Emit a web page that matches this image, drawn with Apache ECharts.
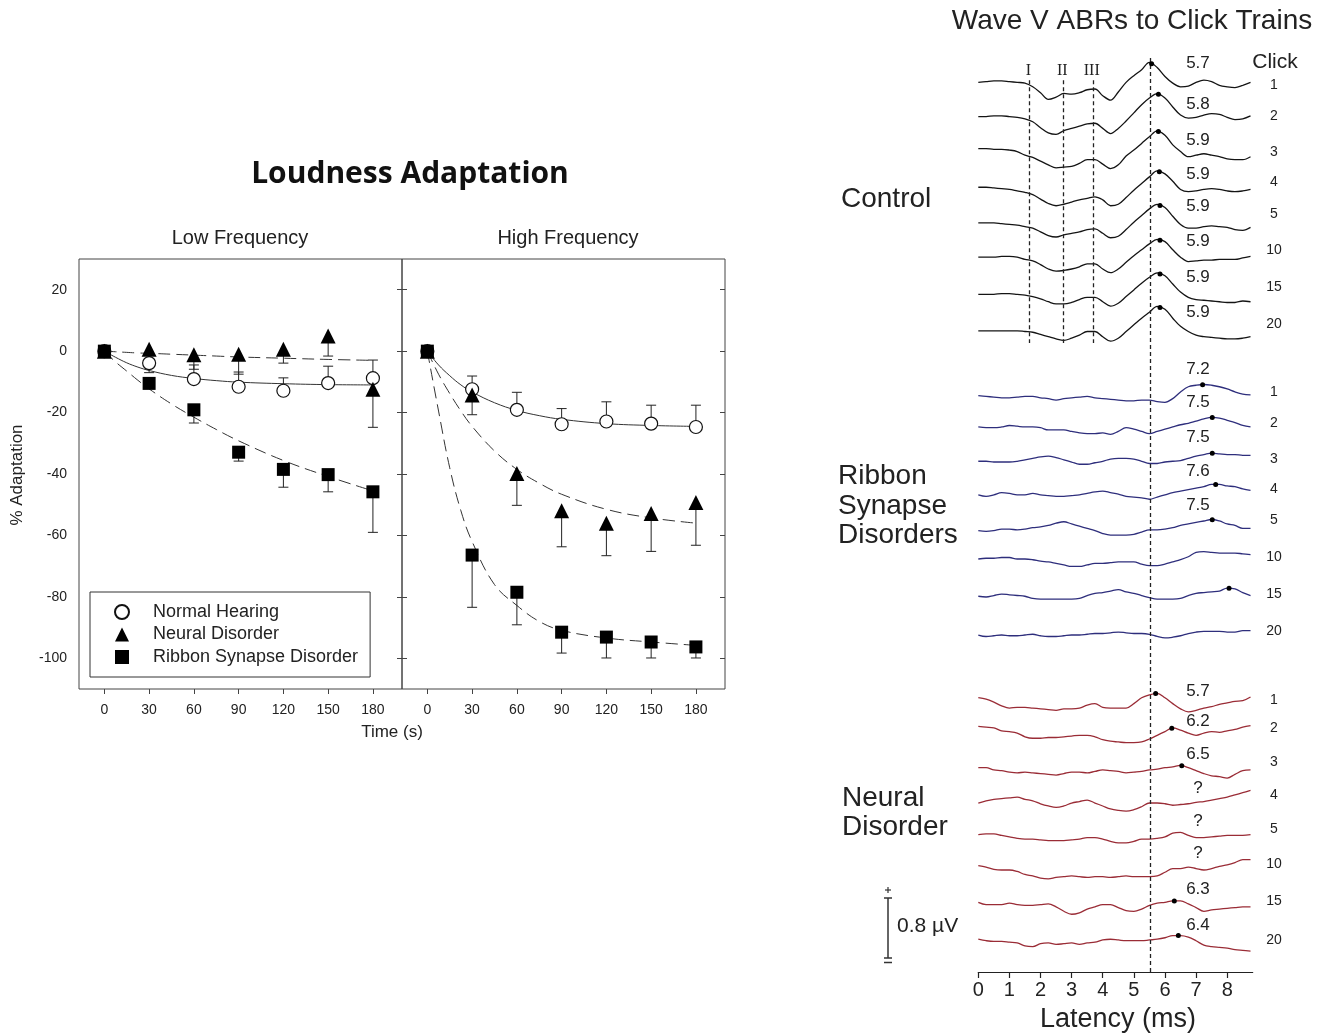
<!DOCTYPE html>
<html><head><meta charset="utf-8">
<script src="https://cdn.jsdelivr.net/npm/echarts@6/dist/echarts.min.js"></script>
<style>html,body{margin:0;padding:0;background:#fff}#c{width:1326px;height:1033px}</style>
</head><body><div id="c"></div>
<script>
// ---------------- Loudness adaptation data ----------------
const timeS = [0, 30, 60, 90, 120, 150, 180];
const yTicks = [-100, -80, -60, -40, -20, 0, 20];
const lowNH  = [0, -3.9, -9.1, -11.6, -12.9, -10.4, -8.8];
const lowNHErr = [null, null, -4.5, -6.8, -8.7, -4.9, -2.9];
const lowND  = [0, 0.6, -1.2, -1.0, 0.6, 4.9, -12.4];
const lowNDErr = [null, -7, -5.9, -7.5, -3.9, -1.6, -24.8];
const lowRS  = [0, -10.5, -19.1, -32.9, -38.5, -40.2, -45.8];
const lowRSErr = [null, null, -23.4, -35.8, -44.3, -45.8, -59];
const highNH = [0, -12.4, -19.1, -23.8, -22.9, -23.6, -24.7];
const highNHErr = [null, -8.1, -13.4, -18.7, -16.5, -17.6, -17.6];
const highND = [0, -14.3, -39.8, -52, -56, -52.9, -49.3];
const highNDErr = [null, -20.7, -50.2, -63.7, -66.6, -65.2, -63.2];
const highRS = [0, -66.4, -78.5, -91.5, -93.1, -94.7, -96.3];
const highRSErr = [null, -83.4, -89.1, -98.3, -99.9, -99.9, -99.9];
// fitted curves
const fitT = [0, 7.5, 15, 22.5, 30, 45, 60, 75, 90, 120, 150, 180];
const lowNHFit  = [0, -2, -3.8, -5.2, -6.3, -7.9, -8.9, -9.6, -10.1, -10.6, -10.9, -11];
const lowNDFit  = [0, -0.2, -0.4, -0.6, -0.7, -1.0, -1.3, -1.6, -1.9, -2.3, -2.7, -3.0];
const lowRSFit  = [0, -3.5, -6.5, -9.5, -12.3, -17.2, -21.5, -25.5, -29.2, -35.6, -40.8, -45.5];
const highNHFit = [0, -4.5, -8, -11, -13.3, -16.8, -19.3, -21, -22.2, -23.6, -24.2, -24.5];
const highNDFit = [0, -7.5, -13.8, -19.5, -24.5, -32.5, -38.5, -43, -46.6, -51.5, -54.3, -56];
const highRSFit = [0, -19.5, -38, -52, -62, -76, -82.8, -88, -90.9, -93.4, -94.7, -95.8];

// ---------------- ABR waveform data (µV, 0.25 ms sampling) ----------------
const latencyMs = [0,0.25,0.5,0.75,1,1.25,1.5,1.75,2,2.25,2.5,2.75,3,3.25,3.5,3.75,4,4.25,4.5,4.75,5,5.25,5.5,5.75,6,6.25,6.5,6.75,7,7.25,7.5,7.75,8,8.25,8.5,8.75];
const latencyTicks = [0,1,2,3,4,5,6,7,8];
const clickNumbers = ['1','2','3','4','5','10','15','20'];

const control_c1 = [-0.01,0.00,0.01,0.01,0.00,-0.01,-0.02,-0.07,-0.15,-0.24,-0.21,-0.16,-0.17,-0.15,-0.11,-0.10,-0.19,-0.25,-0.14,-0.01,0.08,0.16,0.26,0.19,0.07,-0.02,-0.07,-0.06,-0.01,0.02,0.00,-0.05,-0.07,-0.08,-0.05,-0.01];
const control_c2 = [0.01,0.01,0.02,0.02,0.01,0.00,-0.02,-0.06,-0.14,-0.21,-0.23,-0.18,-0.15,-0.12,-0.09,-0.08,-0.15,-0.22,-0.15,-0.05,0.06,0.17,0.26,0.32,0.26,0.14,0.03,-0.01,0.00,0.03,0.05,0.04,0.00,-0.03,-0.02,0.02];
const control_c3 = [0.06,0.06,0.05,0.05,0.04,0.02,-0.03,-0.06,-0.11,-0.16,-0.20,-0.19,-0.18,-0.14,-0.09,-0.09,-0.15,-0.21,-0.16,-0.04,0.04,0.13,0.22,0.30,0.24,0.11,0.02,-0.05,-0.03,-0.01,-0.03,-0.05,-0.08,-0.09,-0.09,-0.05];
const control_c4 = [0.02,0.02,0.01,0.00,-0.01,-0.03,-0.05,-0.08,-0.14,-0.20,-0.23,-0.21,-0.18,-0.15,-0.13,-0.11,-0.15,-0.23,-0.21,-0.12,-0.02,0.07,0.16,0.24,0.20,0.10,-0.01,-0.04,-0.03,-0.01,0.00,-0.01,-0.03,-0.04,-0.03,-0.01];
const control_c5 = [0.02,0.02,0.02,0.01,0.00,-0.01,-0.03,-0.05,-0.10,-0.15,-0.17,-0.14,-0.12,-0.10,-0.07,-0.06,-0.12,-0.18,-0.16,-0.07,0.03,0.12,0.21,0.27,0.23,0.11,0.00,-0.05,-0.05,-0.03,-0.02,-0.03,-0.04,-0.07,-0.08,-0.04];
const control_c10 = [0.04,0.04,0.04,0.05,0.05,0.04,0.01,-0.01,-0.06,-0.12,-0.15,-0.14,-0.12,-0.09,-0.05,-0.05,-0.12,-0.17,-0.12,-0.03,0.06,0.14,0.22,0.28,0.25,0.14,0.04,-0.02,-0.01,0.00,0.00,0.01,0.01,0.01,0.03,0.05];
const control_c15 = [0.02,0.02,0.02,0.03,0.03,0.02,0.01,-0.01,-0.04,-0.08,-0.11,-0.11,-0.09,-0.05,-0.02,-0.02,-0.08,-0.14,-0.10,-0.01,0.08,0.17,0.25,0.31,0.27,0.16,0.05,-0.02,-0.05,-0.06,-0.07,-0.08,-0.09,-0.09,-0.07,-0.08];
const control_c20 = [0.01,0.01,0.01,0.01,0.01,0.01,0.00,-0.01,-0.04,-0.07,-0.10,-0.12,-0.09,-0.05,0.00,0.00,-0.07,-0.13,-0.09,0.00,0.09,0.18,0.26,0.34,0.30,0.18,0.07,0.00,-0.05,-0.07,-0.08,-0.09,-0.10,-0.10,-0.09,-0.07];

const ribbon_c1 = [-0.03,-0.04,-0.05,-0.06,-0.06,-0.05,-0.04,-0.04,-0.06,-0.07,-0.09,-0.07,-0.06,-0.05,-0.04,-0.06,-0.07,-0.08,-0.09,-0.10,-0.10,-0.09,-0.09,-0.11,-0.12,-0.07,0.02,0.09,0.11,0.12,0.11,0.09,0.06,0.02,-0.01,-0.02];
const ribbon_c2 = [0.01,0.00,0.00,0.01,0.03,0.02,0.01,0.01,0.00,-0.03,-0.03,-0.03,-0.05,-0.07,-0.08,-0.08,-0.07,-0.09,-0.05,0.00,-0.02,-0.05,-0.08,-0.05,-0.02,0.01,0.04,0.06,0.09,0.12,0.14,0.13,0.10,0.07,0.03,0.01];
const ribbon_c3 = [0.01,0.01,0.00,0.00,0.00,0.01,0.03,0.05,0.07,0.08,0.06,0.03,0.00,-0.03,-0.03,-0.01,0.01,0.04,0.05,0.05,0.04,0.01,-0.02,-0.02,0.00,0.01,0.02,0.05,0.08,0.10,0.12,0.11,0.10,0.10,0.09,0.09];
const ribbon_c4 = [0.02,0.00,0.02,0.05,0.04,0.02,0.02,0.04,0.02,0.01,0.00,0.00,0.01,0.02,0.04,0.06,0.07,0.05,0.03,0.00,-0.01,-0.02,-0.04,-0.01,0.02,0.05,0.07,0.09,0.11,0.13,0.16,0.16,0.14,0.13,0.10,0.08];
const ribbon_c5 = [0.00,-0.01,0.00,0.02,0.02,0.01,0.02,0.04,0.05,0.07,0.10,0.12,0.09,0.06,0.03,0.00,-0.04,-0.06,-0.06,-0.06,-0.05,-0.02,0.01,0.01,0.02,0.04,0.07,0.09,0.11,0.13,0.15,0.13,0.09,0.07,0.03,0.03];
const ribbon_c10 = [0.08,0.09,0.09,0.10,0.10,0.08,0.08,0.07,0.05,0.04,0.02,0.00,-0.02,-0.02,0.00,0.02,0.02,0.03,0.04,0.04,0.04,0.01,-0.01,-0.01,0.01,0.04,0.07,0.11,0.17,0.18,0.17,0.16,0.16,0.16,0.15,0.14];
const ribbon_c15 = [0.04,0.03,0.05,0.07,0.06,0.05,0.04,0.01,0.00,0.00,0.00,0.00,0.00,0.01,0.05,0.08,0.09,0.11,0.13,0.10,0.08,0.05,0.02,0.00,0.00,0.00,0.01,0.05,0.08,0.09,0.10,0.11,0.15,0.14,0.09,0.05];
const ribbon_c20 = [-0.02,-0.04,-0.03,-0.02,-0.03,-0.03,-0.02,-0.01,-0.03,-0.04,-0.04,-0.03,-0.02,-0.02,-0.01,0.00,0.00,0.01,0.02,0.01,0.00,0.00,-0.01,-0.04,-0.06,-0.05,-0.03,0.00,0.02,0.03,0.03,0.03,0.02,0.02,0.04,0.04];

const neural_c1 = [-0.01,-0.03,-0.07,-0.12,-0.15,-0.14,-0.14,-0.15,-0.16,-0.17,-0.18,-0.16,-0.16,-0.15,-0.11,-0.09,-0.14,-0.15,-0.15,-0.15,-0.09,-0.01,0.03,0.05,-0.01,-0.09,-0.16,-0.20,-0.18,-0.15,-0.13,-0.10,-0.08,-0.06,-0.05,0.00];
const neural_c2 = [0.07,0.06,0.05,0.01,0.00,-0.02,-0.07,-0.09,-0.09,-0.08,-0.08,-0.07,-0.06,-0.05,-0.05,-0.07,-0.11,-0.13,-0.14,-0.15,-0.15,-0.14,-0.10,-0.05,0.00,0.05,0.02,-0.02,-0.05,-0.02,0.00,-0.01,0.01,0.03,0.06,0.08];
const neural_c3 = [-0.02,-0.02,-0.05,-0.06,-0.08,-0.09,-0.08,-0.09,-0.10,-0.11,-0.12,-0.10,-0.08,-0.08,-0.09,-0.07,-0.05,-0.06,-0.07,-0.09,-0.08,-0.07,-0.05,-0.04,-0.02,-0.01,0.01,-0.02,-0.06,-0.10,-0.13,-0.14,-0.16,-0.11,-0.06,-0.05];
const neural_c4 = [-0.03,0.00,0.02,0.03,0.04,0.05,0.02,0.00,-0.04,-0.07,-0.09,-0.07,-0.03,-0.01,0.01,-0.03,-0.07,-0.11,-0.13,-0.14,-0.12,-0.08,-0.03,-0.03,-0.04,-0.06,-0.05,-0.04,-0.02,-0.01,0.01,0.03,0.05,0.08,0.11,0.14];
const neural_c5 = [0.01,0.02,0.02,0.00,-0.02,-0.04,-0.05,-0.05,-0.06,-0.07,-0.07,-0.07,-0.06,-0.05,-0.03,-0.03,-0.05,-0.08,-0.10,-0.10,-0.08,-0.05,-0.05,-0.04,-0.02,0.03,0.04,0.00,-0.03,-0.03,-0.02,-0.01,0.00,0.00,0.00,0.01];
const neural_c10 = [0.06,0.04,0.01,0.00,0.00,-0.02,-0.06,-0.08,-0.11,-0.12,-0.10,-0.09,-0.08,-0.09,-0.10,-0.09,-0.09,-0.10,-0.09,-0.08,-0.09,-0.09,-0.09,-0.08,-0.03,0.02,0.02,0.04,0.02,0.00,0.02,0.05,0.07,0.10,0.14,0.14];
const neural_c15 = [0.03,0.00,0.00,0.00,0.02,0.00,-0.01,-0.01,0.00,0.01,-0.03,-0.09,-0.13,-0.11,-0.06,-0.03,0.00,0.00,-0.04,-0.08,-0.09,-0.06,-0.01,0.02,0.03,0.05,0.05,0.01,-0.04,-0.09,-0.07,-0.06,-0.05,-0.04,-0.03,-0.03];
const neural_c20 = [0.00,-0.02,-0.03,-0.03,-0.04,-0.05,-0.09,-0.10,-0.06,-0.05,-0.07,-0.06,-0.05,-0.07,-0.05,-0.04,-0.01,0.00,-0.01,-0.02,-0.02,-0.02,-0.01,0.00,0.02,0.05,0.05,0.03,-0.02,-0.08,-0.10,-0.11,-0.12,-0.14,-0.15,-0.16];

// peak marks (ms) and their latency labels
const controlPeakMs = [5.57, 5.79, 5.79, 5.82, 5.84, 5.84, 5.84, 5.84];
const controlPeakLabels = ['5.7','5.8','5.9','5.9','5.9','5.9','5.9','5.9'];
const ribbonPeakMs = [7.21, 7.52, 7.52, 7.63, 7.52, null, 8.06, null];
const ribbonPeakLabels = ['7.2','7.5','7.5','7.6','7.5','','',''];
const neuralPeakMs = [5.70, 6.22, 6.54, null, null, null, 6.30, 6.43];
const neuralPeakLabels = ['5.7','6.2','6.5','?','?','?','6.3','6.4'];
const waveVRefMs = 5.54;
const earlyWaves = [{name:'I', ms:1.64}, {name:'II', ms:2.73}, {name:'III', ms:3.68}];

// ---------------- layout ----------------
const groups = [
  {traces:[control_c1,control_c2,control_c3,control_c4,control_c5,control_c10,control_c15,control_c20], color:'#141414',
   peaks:controlPeakMs, labels:controlPeakLabels, start:12.031, step:0.4824,
   labelDy:[-18,-13,-13,-14,-18,-19,-19,-19], clickDy:[4,-1,-1,-7,-10,-10,-9,-7]},
  {traces:[ribbon_c1,ribbon_c2,ribbon_c3,ribbon_c4,ribbon_c5,ribbon_c10,ribbon_c15,ribbon_c20], color:'#2e2e7c',
   peaks:ribbonPeakMs, labels:ribbonPeakLabels, start:7.818, step:0.4635,
   labelDy:[-24.5,-25,-25,-25,-25.7,0,0,0], clickDy:[-1.5,-5,-3,-7,-10,-8,-5,-2]},
  {traces:[neural_c1,neural_c2,neural_c3,neural_c4,neural_c5,neural_c10,neural_c15,neural_c20], color:'#9a2c36',
   peaks:neuralPeakMs, labels:neuralPeakLabels, start:3.716, step:0.4676,
   labelDy:[-6,-10.6,-12,-12,-14,-17,-15.6,-14], clickDy:[3,-3,-4,-6,-6,-6,-3,1]}
];
const FONT = 'Arial, "Liberation Sans", sans-serif';
const INK = '#222';

function interp(vals, t) {
  for (let k = 0; k < latencyMs.length - 1; k++) {
    if (t >= latencyMs[k] && t <= latencyMs[k + 1]) {
      const f = (t - latencyMs[k]) / (latencyMs[k + 1] - latencyMs[k]);
      return vals[k] + f * (vals[k + 1] - vals[k]);
    }
  }
  return vals[vals.length - 1];
}

function errRender(params, api) {
  const x = api.value(0), y = api.value(1), e = api.value(2);
  const p1 = api.coord([x, y]), p2 = api.coord([x, e]);
  const w = 5;
  return {type:'group', children:[
    {type:'line', shape:{x1:p1[0], y1:p1[1], x2:p2[0], y2:p2[1]}, style:{stroke:'#222', lineWidth:1}},
    {type:'line', shape:{x1:p2[0]-w, y1:p2[1], x2:p2[0]+w, y2:p2[1]}, style:{stroke:'#222', lineWidth:1}}
  ]};
}
const pts = (xs, ys) => xs.map((t, i) => [t, ys[i]]);
const errPts = (ys, es) => timeS.map((t, i) => [t, ys[i], es[i]]).filter(d => d[2] !== null);

const series = [];
// fitted curves
[[0, lowNHFit, 'solid'], [0, lowNDFit, [12, 6]], [0, lowRSFit, [12, 6]],
 [1, highNHFit, 'solid'], [1, highNDFit, [12, 6]], [1, highRSFit, [12, 6]]].forEach(([g, arr, tp]) => {
  series.push({type:'line', name:'fit', xAxisIndex:g, yAxisIndex:g === 0 ? 0 : 2, data:pts(fitT, arr),
    smooth:0.4, symbol:'none', silent:true, z:2, lineStyle:{color:'#333', width:1, type:tp}});
});
// error bars
[[0, lowNH, lowNHErr], [0, lowND, lowNDErr], [0, lowRS, lowRSErr],
 [1, highNH, highNHErr], [1, highND, highNDErr], [1, highRS, highRSErr]].forEach(([g, ys, es]) => {
  series.push({type:'custom', name:'err', xAxisIndex:g, yAxisIndex:g === 0 ? 0 : 2, data:errPts(ys, es),
    encode:{x:0, y:[1, 2]}, renderItem:errRender, silent:true, z:3});
});
// markers
const markerStyles = {
  'Normal Hearing': {symbol:'circle', symbolSize:13, itemStyle:{color:'#fff', borderColor:'#111', borderWidth:1.2, opacity:1}},
  'Neural Disorder': {symbol:'triangle', symbolSize:15, itemStyle:{color:'#000', opacity:1}},
  'Ribbon Synapse Disorder': {symbol:'rect', symbolSize:13, itemStyle:{color:'#000', opacity:1}}
};
[['Normal Hearing', lowNH, highNH], ['Neural Disorder', lowND, highND], ['Ribbon Synapse Disorder', lowRS, highRS]].forEach(([nm, lo, hi], k) => {
  [[0, lo], [1, hi]].forEach(([g, ys]) => {
    series.push(Object.assign({type:'scatter', name:nm, xAxisIndex:g, yAxisIndex:g === 0 ? 0 : 2,
      data:pts(timeS, ys), z:5 + k, silent:true}, markerStyles[nm]));
  });
});

// ABR traces
const base = (g, i) => groups[g].start - i * groups[g].step;
const dots = [];
groups.forEach((grp, g) => {
  grp.traces.forEach((vals, i) => {
    const b = base(g, i);
    const s = {type:'line', name:'abr', xAxisIndex:2, yAxisIndex:4, data:latencyMs.map((t, k) => [t, b + vals[k]]),
      smooth:0.35, symbol:'none', silent:true, z:2, lineStyle:{color:grp.color, width:1.3}};
    if (g === 0 && i === 0) {
      const ml = [{xAxis:waveVRefMs}];
      earlyWaves.forEach(w => ml.push([{coord:[w.ms, 12.05]}, {coord:[w.ms, 8.5]}]));
      s.markLine = {symbol:['none','none'], silent:true, animation:false, label:{show:false},
        lineStyle:{type:[4, 3], color:'#222', width:1.3}, data:ml};
    }
    series.push(s);
    const pk = grp.peaks[i];
    if (pk !== null) dots.push([pk, b + interp(vals, pk)]);
  });
});
series.push({type:'scatter', name:'peak', xAxisIndex:2, yAxisIndex:4, data:dots, symbol:'circle', symbolSize:5,
  itemStyle:{color:'#000', opacity:1}, z:6, silent:true});

const tickStyle = {color:'#444', width:1};
const noLine = {show:false, onZero:false};
const option = {
  animation:false,
  textStyle:{fontFamily:FONT},
  legend:{orient:'vertical', left:90, top:592, selectedMode:false,
    data:['Normal Hearing','Neural Disorder','Ribbon Synapse Disorder'],
    borderColor:'#333', borderWidth:1, padding:[11, 12, 11, 24], itemGap:4.5, itemWidth:14, itemHeight:14,
    textStyle:{fontSize:18, color:INK, fontFamily:FONT, padding:[0, 0, 0, 19]}},
  grid:[
    {left:79, top:259, width:323, height:430, show:true, borderColor:'#444', borderWidth:1, containLabel:false},
    {left:402, top:259, width:323, height:430, show:true, borderColor:'#444', borderWidth:1, containLabel:false},
    {left:978.3, top:58, width:274.4, height:914, containLabel:false}
  ],
  xAxis:[
    {type:'value', gridIndex:0, min:-17, max:199.5, axisLine:noLine, splitLine:{show:false},
     axisTick:{show:true, inside:false, length:5, customValues:timeS, lineStyle:tickStyle},
     axisLabel:{customValues:timeS, fontSize:14, color:INK, margin:14}},
    {type:'value', gridIndex:1, min:-17, max:199.5, axisLine:noLine, splitLine:{show:false},
     axisTick:{show:true, inside:false, length:5, customValues:timeS, lineStyle:tickStyle},
     axisLabel:{customValues:timeS, fontSize:14, color:INK, margin:14}},
    {type:'value', gridIndex:2, min:0, max:8.82, interval:1, splitLine:{show:false},
     axisLine:{show:true, onZero:false, lineStyle:{color:'#222', width:1.2}},
     axisTick:{show:true, inside:false, length:6, customValues:latencyTicks, lineStyle:{color:'#222', width:1.2}},
     axisLabel:{customValues:latencyTicks, fontSize:20, color:INK, margin:8}}
  ],
  yAxis:[
    {type:'value', gridIndex:0, min:-110, max:30, position:'left', axisLine:noLine, splitLine:{show:false},
     axisTick:{show:false}, axisLabel:{customValues:yTicks, fontSize:14, color:INK, margin:12}},
    {type:'value', gridIndex:0, min:-110, max:30, position:'right', axisLine:noLine, splitLine:{show:false},
     axisTick:{show:true, inside:true, length:5, customValues:yTicks, lineStyle:tickStyle}, axisLabel:{show:false}},
    {type:'value', gridIndex:1, min:-110, max:30, position:'left', axisLine:noLine, splitLine:{show:false},
     axisTick:{show:true, inside:true, length:5, customValues:yTicks, lineStyle:tickStyle}, axisLabel:{show:false}},
    {type:'value', gridIndex:1, min:-110, max:30, position:'right', axisLine:noLine, splitLine:{show:false},
     axisTick:{show:true, inside:true, length:5, customValues:yTicks, lineStyle:tickStyle}, axisLabel:{show:false}},
    {type:'value', gridIndex:2, min:0, max:12.35, show:false}
  ],
  series:series
};

const chart = echarts.init(document.getElementById('c'), null, {renderer:'canvas'});
chart.setOption(option);

function txt(text, x, y, size, o) {
  o = o || {};
  return {type:'text', x:x, y:y, rotation:o.rot || 0, silent:true, z:20,
    style:{text:text, font:(o.weight || 'normal') + ' ' + size + 'px ' + (o.family || FONT), fill:o.fill || INK,
      textAlign:o.align || 'center', align:o.align || 'center', textVerticalAlign:'middle', verticalAlign:'middle'}};
}
const g = [];
g.push(txt('Loudness Adaptation', 410, 174, 30, {weight:'bold', family:'"Open Sans", Arial, sans-serif', fill:'#111'}));
g.push(txt('Low Frequency', 240, 238, 20));
g.push(txt('High Frequency', 568, 238, 20));
g.push(txt('Time (s)', 392, 732, 17));
g.push(txt('% Adaptation', 17, 475, 17, {rot:Math.PI / 2}));
g.push(txt('Wave V ABRs to Click Trains', 1132, 21, 28));
g.push(txt('Click', 1275, 62, 21));
g.push(txt('Control', 841, 199, 28, {align:'left'}));
g.push(txt('Ribbon', 838, 476, 28, {align:'left'}));
g.push(txt('Synapse', 838, 506, 28, {align:'left'}));
g.push(txt('Disorders', 838, 535, 28, {align:'left'}));
g.push(txt('Neural', 842, 798, 28, {align:'left'}));
g.push(txt('Disorder', 842, 827, 28, {align:'left'}));
g.push(txt('Latency (ms)', 1118, 1020, 27));
g.push(txt('0.8 \u00b5V', 897, 926, 21, {align:'left'}));
// early wave labels
earlyWaves.forEach(w => {
  const p = chart.convertToPixel({gridIndex:2}, [w.ms, 0]);
  g.push(txt(w.name, p[0] - 1, 71, 16, {family:'"Liberation Serif", "DejaVu Serif", serif'}));
});
// scale bar
const ln = (x1, y1, x2, y2, w) => ({type:'line', silent:true, z:20, shape:{x1, y1, x2, y2}, style:{stroke:'#333', lineWidth:w || 1.5}});
g.push(ln(888, 898, 888, 958));
g.push(ln(884, 898, 892, 898));
g.push(ln(885, 890, 891, 890, 1.2));
g.push(ln(888, 887, 888, 893, 1.2));
g.push(ln(884, 958, 892, 958));
g.push(ln(884, 962.5, 892, 962.5));
// click numbers and peak labels
groups.forEach((grp, gi) => {
  grp.traces.forEach((vals, i) => {
    const p = chart.convertToPixel({gridIndex:2}, [7.06, base(gi, i)]);
    g.push(txt(clickNumbers[i], 1274, p[1] + grp.clickDy[i], 14));
    if (grp.labels[i]) g.push(txt(grp.labels[i], p[0], p[1] + grp.labelDy[i], 17));
  });
});
chart.setOption({graphic:g});
</script></body></html>
